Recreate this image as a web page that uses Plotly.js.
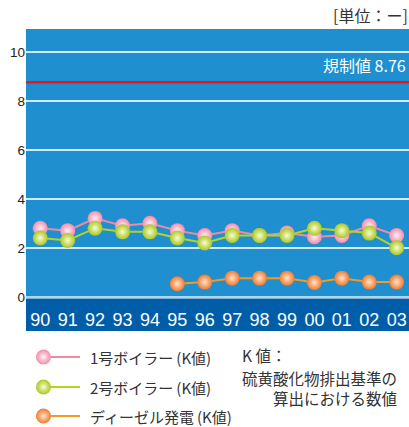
<!DOCTYPE html>
<html><head><meta charset="utf-8">
<script src="https://cdn.plot.ly/plotly-3.0.1.min.js"></script>
<style>html,body{margin:0;padding:0;background:#fff}</style>
</head><body>
<div id="chart" style="width:409px;height:427px"></div>
<script>
const years = ["90","91","92","93","94","95","96","97","98","99","00","01","02","03"];
const boiler1 = [2.8,2.7,3.2,2.9,3.0,2.7,2.5,2.7,2.5,2.6,2.45,2.5,2.9,2.5];
const boiler2 = [2.4,2.3,2.8,2.65,2.65,2.4,2.2,2.5,2.5,2.5,2.8,2.7,2.6,2.0];
const dieselYears = ["95","96","97","98","99","00","01","02","03"];
const diesel = [0.53,0.6,0.76,0.76,0.76,0.58,0.76,0.6,0.6];
const seriesNames = ["1号ボイラー\u2009(K値)","2号ボイラー\u2009(K値)","ディーゼル発電\u2009(K値)"];
const yTicks = [0,2,4,6,8,10];
const limitValue = 8.76;
const limitLabel = "規制値 8.76";
const unitLabel = "[単位：ー]";
const noteLines = ["K 値：","硫黄酸化物排出基準の","算出における数値"];

const lineColors = ["#f08aa2","#b5d420","#f39a22"];
const markerColors = ["#f28cab","#abc81c","#f27a2c"];
const centerColors = ["#fff0f4","#f6fbd8","#ffe4cc"];
const JP = "'Noto Sans CJK JP', sans-serif";

const H = 427, T = 29;
const plotH = H - T;
const frac = px => (H - px) / plotH; // paper y fraction for pixel y

function series(x, y, i) {
  return {
    x: x, y: y, type: "scatter", mode: "lines+markers", name: seriesNames[i],
    line: {color: lineColors[i], width: 2},
    marker: {size: 15, color: markerColors[i], line: {width: 0},
             gradient: {type: "radial", color: centerColors[i]}},
    showlegend: false, hoverinfo: "skip", cliponaxis: false
  };
}

const traces = [
  series(years, boiler1, 0),
  series(years, boiler2, 1),
  series(dieselYears, diesel, 2)
];

// custom legend (pixel-style coordinates on helper axes)
const legendRows = [357, 387, 416];
const annotations = [];
seriesNames.forEach((n, i) => {
  traces.push({
    x: [43.5, 80], y: [legendRows[i], legendRows[i]], xaxis: "x2", yaxis: "y2",
    type: "scatter", mode: "lines", line: {color: lineColors[i], width: 2},
    showlegend: false, hoverinfo: "skip"
  });
  traces.push({
    x: [43.5], y: [legendRows[i]], xaxis: "x2", yaxis: "y2",
    type: "scatter", mode: "markers",
    marker: {size: 15, color: markerColors[i], line: {width: 0},
             gradient: {type: "radial", color: centerColors[i]}},
    showlegend: false, hoverinfo: "skip", cliponaxis: false
  });
  annotations.push({
    xref: "x2", yref: "y2", x: 88, y: legendRows[i], xanchor: "left", yanchor: "middle",
    text: n, showarrow: false, font: {family: JP, size: 15, color: "#333"}
  });
});

annotations.push({xref: "x2", yref: "y2", x: 241, y: 355, xanchor: "left", yanchor: "middle",
  text: noteLines[0], showarrow: false, borderpad: 0, font: {family: JP, size: 15.5, color: "#333"}});
annotations.push({xref: "x2", yref: "y2", x: 241, y: 366, xanchor: "left", yanchor: "top",
  text: noteLines[1] + "<br>" + noteLines[2], align: "right", showarrow: false, borderpad: 0,
  font: {family: JP, size: 15.5, color: "#333"}});

annotations.push({xref: "paper", yref: "y", x: 1, y: limitValue, xanchor: "right", yanchor: "bottom",
  yshift: 3, xshift: -1, text: limitLabel, showarrow: false,
  font: {family: JP, size: 16, color: "#ffffff"}});
annotations.push({xref: "paper", yref: "paper", x: 1, y: frac(15), xanchor: "right", yanchor: "middle",
  xshift: 1, text: unitLabel, showarrow: false, font: {family: JP, size: 16, color: "#333"}});

const layout = {
  width: 409, height: 427,
  margin: {l: 26, r: 0, t: T, b: 0, pad: 0},
  paper_bgcolor: "#ffffff", plot_bgcolor: "rgba(0,0,0,0)",
  showlegend: false,
  xaxis: {type: "category", range: [-0.52, 13.45], showgrid: false, zeroline: false,
    showline: false, ticks: "outside", ticklen: 5, tickcolor: "rgba(0,0,0,0)",
    tickfont: {family: "'Liberation Sans Narrow', 'Arial Narrow', sans-serif", size: 18, color: "#ffffff"},
    fixedrange: true},
  yaxis: {domain: [frac(298), 1], range: [-0.05, 10.93], tickvals: yTicks,
    showgrid: true, gridcolor: "#d2ebf9", gridwidth: 2,
    zeroline: true, zerolinecolor: "#a9d7f2", zerolinewidth: 2, showline: false,
    ticks: "", tickfont: {family: "'Liberation Sans', Arial, sans-serif", size: 13.5, color: "#222"},
    fixedrange: true},
  xaxis2: {domain: [0, 1], anchor: "y2", range: [26, 409], visible: false, fixedrange: true},
  yaxis2: {domain: [0, frac(335)], anchor: "x2", range: [427, 335], visible: false, fixedrange: true},
  shapes: [
    {type: "rect", xref: "x domain", yref: "y domain", x0: 0, x1: 1, y0: 0, y1: 1,
     fillcolor: "#1f8fd0", line: {width: 0}, layer: "below"},
    {type: "rect", xref: "x domain", yref: "paper", x0: 0, x1: 1, y0: frac(331), y1: frac(298.5),
     fillcolor: "#005ea9", line: {width: 0}, layer: "below"},
    {type: "line", xref: "x domain", yref: "y", x0: 0, x1: 1, y0: limitValue, y1: limitValue,
     line: {color: "#e8141e", width: 2.5}, layer: "below"}
  ],
  annotations: annotations
};

Plotly.newPlot("chart", traces, layout, {displayModeBar: false, staticPlot: true});
</script>
</body></html>
